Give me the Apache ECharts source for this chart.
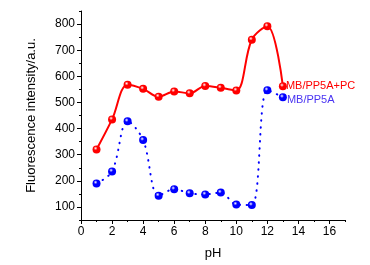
<!DOCTYPE html>
<html>
<head>
<meta charset="utf-8">
<script src="https://cdn.jsdelivr.net/npm/echarts@6/dist/echarts.min.js"></script>
<style>
  html, body { margin: 0; padding: 0; background: #fff; }
  #chart { width: 370px; height: 265px; }
</style>
</head>
<body>
<div id="chart"></div>
<script>
const phValues = [1, 2, 3, 4, 5, 6, 7, 8, 9, 10, 11, 12, 13]
const withPC = [320, 435, 568, 552, 522, 542, 535, 563, 556, 546, 740, 792, 562]
const withoutPC = [190, 236, 428, 356, 143, 168, 152, 148, 155, 109, 107, 547, 520]
const xTicks = [0, 2, 4, 6, 8, 10, 12, 14, 16]
const xMinor = [1, 3, 5, 7, 9, 11, 13, 15, 17]
const yTicks = [100, 200, 300, 400, 500, 600, 700, 800]
const yMinor = [50, 150, 250, 350, 450, 550, 650, 750, 850]

const font = 'Liberation Sans, Arial, sans-serif'

function ball(c) {
  return {
    type: 'radial', x: 0.38, y: 0.35, r: 0.7,
    colorStops: [
      { offset: 0, color: '#ffffff' },
      { offset: 0.35, color: c },
      { offset: 1, color: c }
    ]
  }
}

const chart = echarts.init(document.getElementById('chart'))

const axisCommon = {
  axisLine: { show: true, lineStyle: { color: '#000', width: 1 } },
  splitLine: { show: false }
}

const option = {
  animation: false,
  grid: { left: 81, right: 25, top: 11, bottom: 42, containLabel: false },
  xAxis: [
    Object.assign({
      type: 'value', min: 0, max: 17,
      name: 'pH', nameLocation: 'middle', nameGap: 27,
      nameTextStyle: { fontFamily: font, fontSize: 13, color: '#000' },
      axisTick: { customValues: xTicks, length: 4, lineStyle: { color: '#000' } },
      axisLabel: { customValues: xTicks, fontFamily: font, fontSize: 12, color: '#000', margin: 6 }
    }, axisCommon),
    {
      type: 'value', min: 0, max: 17, position: 'bottom',
      axisLine: { show: false }, splitLine: { show: false },
      axisTick: { customValues: xMinor, length: 2, lineStyle: { color: '#000' } },
      axisLabel: { show: false }
    }
  ],
  yAxis: [
    Object.assign({
      type: 'value', min: 50, max: 850,
      name: 'Fluorescence intensity/a.u.', nameLocation: 'middle', nameGap: 43,
      nameTextStyle: { fontFamily: font, fontSize: 13, color: '#000' },
      axisTick: { customValues: yTicks, length: 4, lineStyle: { color: '#000' } },
      axisLabel: { customValues: yTicks, fontFamily: font, fontSize: 12, color: '#000', margin: 6 }
    }, axisCommon),
    {
      type: 'value', min: 50, max: 850, position: 'left',
      axisLine: { show: false }, splitLine: { show: false },
      axisTick: { customValues: yMinor, length: 2, lineStyle: { color: '#000' } },
      axisLabel: { show: false }
    }
  ],
  series: [
    {
      name: 'MB/PP5A+PC',
      type: 'line',
      smooth: 0.35,
      data: phValues.map((p, i) => [p, withPC[i]]),
      symbol: 'circle',
      symbolSize: 8,
      itemStyle: { color: ball('#ff0000') },
      lineStyle: { color: '#ff0000', width: 2 },
      endLabel: {
        show: true, formatter: 'MB/PP5A+PC', color: '#ff0000',
        fontFamily: font, fontSize: 11, distance: 3
      },
      z: 3
    },
    {
      name: 'MB/PP5A',
      type: 'line',
      smooth: 0.35,
      data: phValues.map((p, i) => [p, withoutPC[i]]),
      symbol: 'circle',
      symbolSize: 8,
      itemStyle: { color: ball('#0000ff') },
      lineStyle: { color: '#0000ff', width: 2, type: [0.5, 6.5], cap: 'round' },
      endLabel: {
        show: true, formatter: 'MB/PP5A', color: '#4a34f2',
        fontFamily: font, fontSize: 11, distance: 4, offset: [0, 3]
      },
      z: 2
    }
  ]
}

chart.setOption(option)
</script>
</body>
</html>
